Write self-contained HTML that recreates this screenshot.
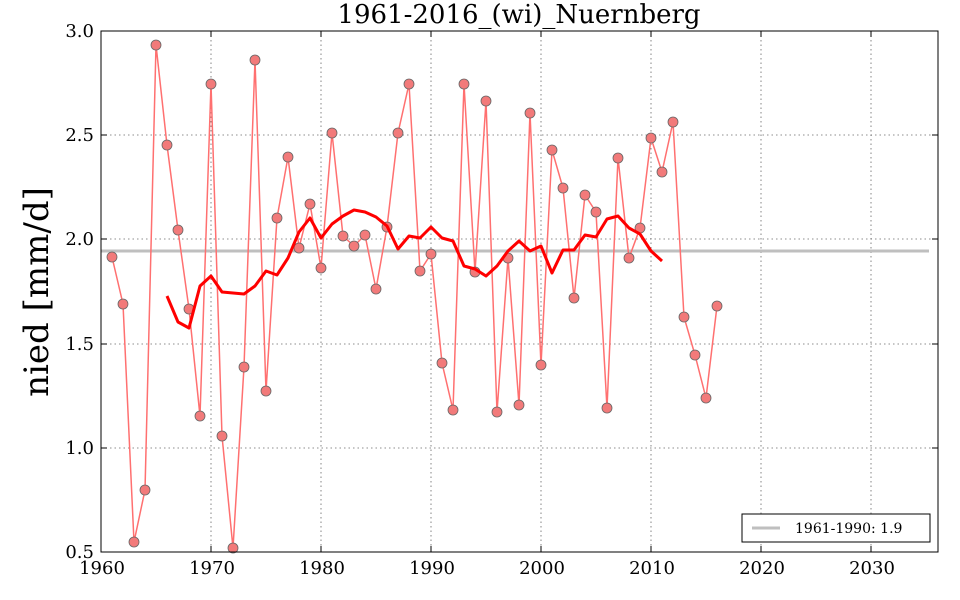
<!DOCTYPE html>
<html><head><meta charset="utf-8"><style>body{margin:0;background:#fff}svg{display:block}</style></head><body>
<svg width="960" height="600" xmlns="http://www.w3.org/2000/svg" font-family="DejaVu Serif, Liberation Serif, serif">
<rect width="960" height="600" fill="#fff"/>
<g stroke="#000" stroke-width="0.8" stroke-dasharray="1.5,3" opacity="0.6">
<line x1="211" y1="31" x2="211" y2="552"/><line x1="321" y1="31" x2="321" y2="552"/><line x1="431" y1="31" x2="431" y2="552"/><line x1="541" y1="31" x2="541" y2="552"/><line x1="651" y1="31" x2="651" y2="552"/><line x1="761" y1="31" x2="761" y2="552"/><line x1="871" y1="31" x2="871" y2="552"/>
<line x1="101" y1="135" x2="938" y2="135"/><line x1="101" y1="239" x2="938" y2="239"/><line x1="101" y1="344" x2="938" y2="344"/><line x1="101" y1="448" x2="938" y2="448"/>
</g>
<line x1="101" y1="251" x2="929" y2="251" stroke="#bfbfbf" stroke-width="3"/>
<polyline fill="none" stroke="#ff7070" stroke-width="1.5" points="112,257 123,304 134,542 145,490 156,45 167,145 178,230 189,309 200,416 211,84 222,436 233,548 244,367 255,60 266,391 277,218 288,157 299,248 310,204 321,268 332,133 343,236 354,246 365,235 376,289 387,227 398,133 409,84 420,271 431,254 442,363 453,410 464,84 475,272 486,101 497,412 508,258 519,405 530,113 541,365 552,150 563,188 574,298 585,195 596,212 607,408 618,158 629,258 640,228 651,138 662,172 673,122 684,317 695,355 706,398 717,306"/>
<g fill="#f27a7a" stroke="#666" stroke-width="0.8">
<circle cx="112" cy="257" r="5"/><circle cx="123" cy="304" r="5"/><circle cx="134" cy="542" r="5"/><circle cx="145" cy="490" r="5"/><circle cx="156" cy="45" r="5"/><circle cx="167" cy="145" r="5"/><circle cx="178" cy="230" r="5"/><circle cx="189" cy="309" r="5"/><circle cx="200" cy="416" r="5"/><circle cx="211" cy="84" r="5"/><circle cx="222" cy="436" r="5"/><circle cx="233" cy="548" r="5"/><circle cx="244" cy="367" r="5"/><circle cx="255" cy="60" r="5"/><circle cx="266" cy="391" r="5"/><circle cx="277" cy="218" r="5"/><circle cx="288" cy="157" r="5"/><circle cx="299" cy="248" r="5"/><circle cx="310" cy="204" r="5"/><circle cx="321" cy="268" r="5"/><circle cx="332" cy="133" r="5"/><circle cx="343" cy="236" r="5"/><circle cx="354" cy="246" r="5"/><circle cx="365" cy="235" r="5"/><circle cx="376" cy="289" r="5"/><circle cx="387" cy="227" r="5"/><circle cx="398" cy="133" r="5"/><circle cx="409" cy="84" r="5"/><circle cx="420" cy="271" r="5"/><circle cx="431" cy="254" r="5"/><circle cx="442" cy="363" r="5"/><circle cx="453" cy="410" r="5"/><circle cx="464" cy="84" r="5"/><circle cx="475" cy="272" r="5"/><circle cx="486" cy="101" r="5"/><circle cx="497" cy="412" r="5"/><circle cx="508" cy="258" r="5"/><circle cx="519" cy="405" r="5"/><circle cx="530" cy="113" r="5"/><circle cx="541" cy="365" r="5"/><circle cx="552" cy="150" r="5"/><circle cx="563" cy="188" r="5"/><circle cx="574" cy="298" r="5"/><circle cx="585" cy="195" r="5"/><circle cx="596" cy="212" r="5"/><circle cx="607" cy="408" r="5"/><circle cx="618" cy="158" r="5"/><circle cx="629" cy="258" r="5"/><circle cx="640" cy="228" r="5"/><circle cx="651" cy="138" r="5"/><circle cx="662" cy="172" r="5"/><circle cx="673" cy="122" r="5"/><circle cx="684" cy="317" r="5"/><circle cx="695" cy="355" r="5"/><circle cx="706" cy="398" r="5"/><circle cx="717" cy="306" r="5"/>
</g>
<polyline fill="none" stroke="#ff0000" stroke-width="3" stroke-linejoin="round" points="167,296 178,322 189,328 200,286 211,276 222,292 233,293 244,294 255,286 266,271 277,275 288,258 299,232 310,218 321,238 332,224 343,216 354,210 365,212 376,217 387,226 398,249 409,236 420,238 431,227 442,238 453,241 464,266 475,269 486,276 497,266 508,251 519,241 530,251 541,246 552,273 563,250 574,250 585,235 596,237 607,219 618,216 629,228 640,234 651,251 662,261"/>
<rect x="101" y="31" width="837" height="521" fill="none" stroke="#000" stroke-width="1"/>
<g stroke="#000" stroke-width="1">
<path d="M211 552v-6M321 552v-6M431 552v-6M541 552v-6M651 552v-6M761 552v-6M871 552v-6M211 31v6M321 31v6M431 31v6M541 31v6M651 31v6M761 31v6M871 31v6"/>
<path d="M101 135h6M101 239h6M101 344h6M101 448h6M938 135h-6M938 239h-6M938 344h-6M938 448h-6"/>
</g>
<g font-size="18" text-anchor="middle">
<text x="102" y="574">1960</text><text x="212" y="574">1970</text><text x="322" y="574">1980</text><text x="432" y="574">1990</text><text x="542" y="574">2000</text><text x="652" y="574">2010</text><text x="762" y="574">2020</text><text x="872" y="574">2030</text>
</g>
<g font-size="18" text-anchor="end">
<text x="94" y="37">3.0</text><text x="94" y="141">2.5</text><text x="94" y="245">2.0</text><text x="94" y="350">1.5</text><text x="94" y="454">1.0</text><text x="94" y="558">0.5</text>
</g>
<text x="519" y="23" font-size="26" text-anchor="middle">1961-2016_(wi)_Nuernberg</text>
<text transform="translate(48,292) rotate(-90)" font-size="34" text-anchor="middle">nied [mm/d]</text>
<rect x="742" y="514" width="188" height="28" fill="#fff" stroke="#000" stroke-width="1"/>
<line x1="752" y1="528" x2="780" y2="528" stroke="#bfbfbf" stroke-width="3"/>
<text x="795" y="533" font-size="14">1961-1990: 1.9</text>
</svg>
</body></html>
